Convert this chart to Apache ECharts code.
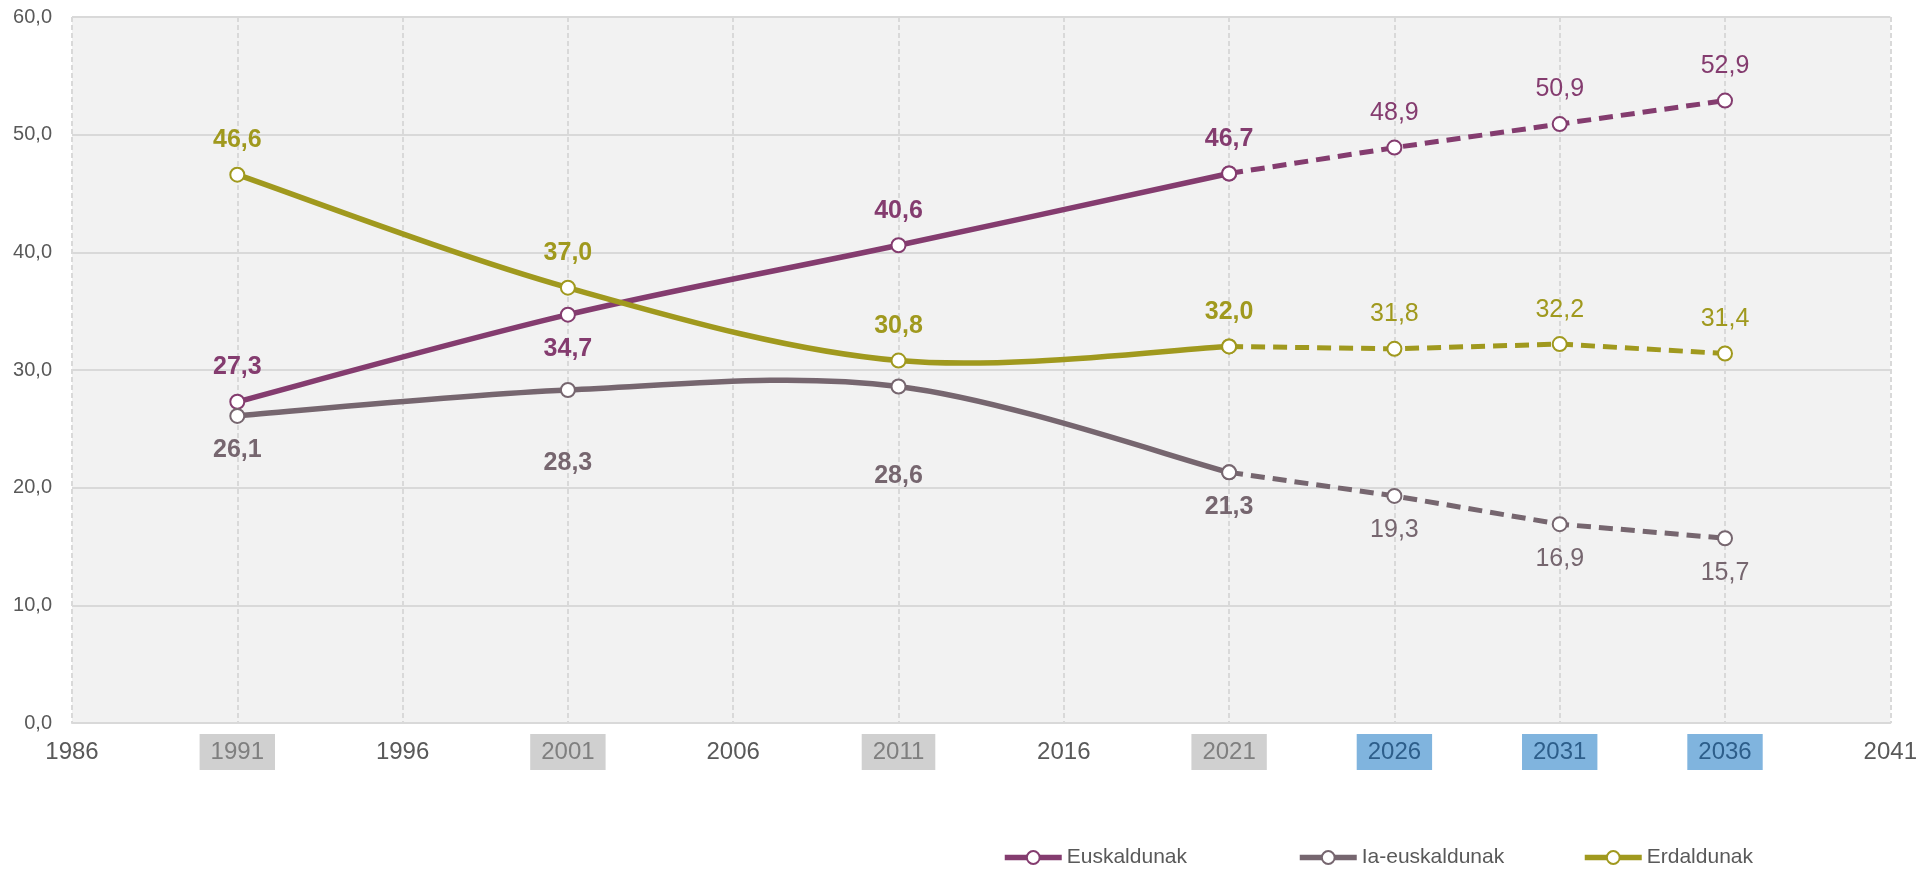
<!DOCTYPE html>
<html>
<head>
<meta charset="utf-8">
<script src="https://cdn.jsdelivr.net/npm/echarts@6/dist/echarts.min.js"></script>
<style>
html,body{margin:0;padding:0;background:#ffffff;}
#chart{width:1931px;height:871px;}
</style>
</head>
<body>
<div id="chart"></div>
<script>
// ---- data ----
const years = [1991, 2001, 2011, 2021, 2026, 2031, 2036];
const euskaldunak = [27.3, 34.7, 40.6, 46.7, 48.9, 50.9, 52.9];
const iaEuskaldunak = [26.1, 28.3, 28.6, 21.3, 19.3, 16.9, 15.7];
const erdaldunak = [46.6, 37.0, 30.8, 32.0, 31.8, 32.2, 31.4];
const lastObservedIndex = 3; // 2021: last census, later years are projections
const censusYears = [1991, 2001, 2011, 2021];
const projectionYears = [2026, 2031, 2036];
const seriesNames = ['Euskaldunak', 'Ia-euskaldunak', 'Erdaldunak'];

// ---- styling ----
const FONT = '"Liberation Sans", Arial, sans-serif';
const colors = ['#843C6F', '#76666F', '#A0991E'];
const legendLeft = [997, 1292, 1577];
const fmt = v => v.toFixed(1).replace('.', ',');

function labelPos(si, year) {
  if (si === 1) return 'bottom';
  if (si === 0 && year === 2001) return 'bottom';
  return 'top';
}
// extra label shifts (px) used in the original to avoid overlaps
const labelShift = { '1-2001': 39, '1-2011': 55 };

const allData = [euskaldunak, iaEuskaldunak, erdaldunak];
const series = [];

// Excel-style smoothed curve (Catmull-Rom -> cubic Bezier) drawn through the library's coordinate system
function curveSeries(points, color) {
  return {
    type: 'custom',
    name: '_curve',
    silent: true,
    z: 2,
    data: points,
    encode: { x: 0, y: 1 },
    renderItem: function (params, api) {
      if (params.dataIndex !== 0) return null;
      const c = points.map(p => api.coord(p));
      const n = c.length;
      const children = [];
      for (let i = 0; i < n - 1; i++) {
        const p0 = c[Math.max(i - 1, 0)], p1 = c[i], p2 = c[i + 1], p3 = c[Math.min(i + 2, n - 1)];
        children.push({
          type: 'bezierCurve',
          shape: {
            x1: p1[0], y1: p1[1], x2: p2[0], y2: p2[1],
            cpx1: p1[0] + (p2[0] - p0[0]) / 6, cpy1: p1[1] + (p2[1] - p0[1]) / 6,
            cpx2: p2[0] - (p3[0] - p1[0]) / 6, cpy2: p2[1] - (p3[1] - p1[1]) / 6
          },
          style: { stroke: color, lineWidth: 5.5, fill: null, lineCap: 'round' }
        });
      }
      return { type: 'group', children: children };
    }
  };
}

allData.forEach((vals, si) => {
  const hist = [], proj = [], histPts = [];
  years.forEach((y, i) => {
    const shift = labelShift[si + '-' + y] || 0;
    if (i <= lastObservedIndex) {
      histPts.push([y, vals[i]]);
      hist.push({ value: [y, vals[i]], label: { position: labelPos(si, y), offset: [0, shift] } });
    }
    if (i >= lastObservedIndex) {
      proj.push({ value: [y, vals[i]], label: { show: i > lastObservedIndex, position: labelPos(si, y) } });
    }
  });
  const common = {
    name: seriesNames[si],
    type: 'line',
    symbol: 'circle',
    symbolSize: 14,
    itemStyle: { color: '#ffffff', borderColor: colors[si], borderWidth: 2 },
    emphasis: { disabled: true },
    z: 4
  };
  series.push(curveSeries(histPts, colors[si]));
  series.push(Object.assign({}, common, {
    data: hist,
    lineStyle: { color: colors[si], width: 5, opacity: 0 },
    label: {
      show: true, distance: 14, formatter: p => fmt(p.value[1]),
      color: colors[si], fontSize: 25, fontWeight: 'bold', fontFamily: FONT
    }
  }));
  series.push(Object.assign({}, common, {
    data: proj,
    z: 3,
    lineStyle: { color: colors[si], width: 5, type: [14, 8] },
    label: {
      show: true, distance: 14, formatter: p => fmt(p.value[1]),
      color: colors[si], fontSize: 25, fontWeight: 'normal', fontFamily: FONT
    }
  }));
});

const chart = echarts.init(document.getElementById('chart'));
chart.setOption({
  animation: false,
  backgroundColor: '#ffffff',
  textStyle: { fontFamily: FONT },
  grid: {
    left: 72, right: 36, top: 17, bottom: 148,
    show: true, backgroundColor: '#f2f2f2', borderWidth: 0
  },
  xAxis: {
    type: 'value', min: 1986, max: 2041, interval: 5,
    axisLine: { show: true, lineStyle: { color: '#d9d9d9', width: 2 } },
    axisTick: { show: false },
    splitLine: { show: true, lineStyle: { color: '#d9d9d9', width: 2, type: [5, 3] } },
    axisLabel: {
      margin: 15,
      formatter: v => {
        if (censusYears.indexOf(v) >= 0) return '{g|' + v + '}';
        if (projectionYears.indexOf(v) >= 0) return '{b|' + v + '}';
        return '{n|' + v + '}';
      },
      rich: {
        g: { backgroundColor: '#d0d0d0', color: '#7f7f7f', fontSize: 24, lineHeight: 28, padding: [6, 11, 6, 11], fontFamily: FONT },
        b: { backgroundColor: '#80b4de', color: '#2d5e8a', fontSize: 24, lineHeight: 28, padding: [6, 11, 6, 11], fontFamily: FONT },
        n: { color: '#595959', fontSize: 24, lineHeight: 28, padding: [6, 11, 6, 11], fontFamily: FONT }
      }
    }
  },
  yAxis: {
    type: 'value', min: 0, max: 60, interval: 10,
    axisLine: { show: false },
    axisTick: { show: false },
    splitLine: { show: true, lineStyle: { color: '#d9d9d9', width: 2 } },
    axisLabel: { margin: 20, color: '#595959', fontSize: 20, fontFamily: FONT, formatter: v => fmt(v) }
  },
  legend: seriesNames.map((nm, i) => ({
    data: [nm],
    left: legendLeft[i], top: 842,
    itemWidth: 57, itemHeight: 16, itemGap: 5,
    lineStyle: { width: 5.5, opacity: 1, type: 'solid', color: 'inherit' },
    textStyle: { color: '#595959', fontSize: 21, fontFamily: FONT }
  })),
  series: series
});
</script>
</body>
</html>
